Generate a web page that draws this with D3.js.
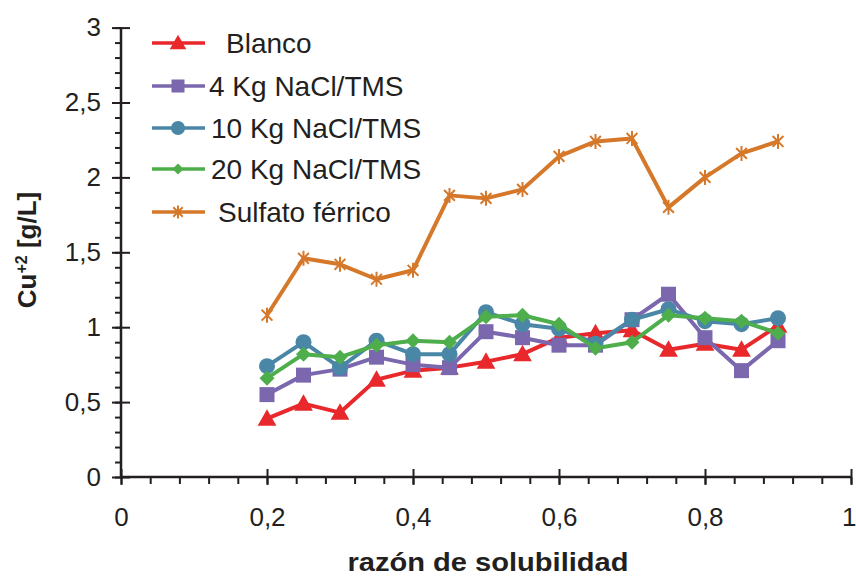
<!DOCTYPE html>
<html>
<head>
<meta charset="utf-8">
<script src="https://cdn.jsdelivr.net/npm/d3@7"></script>
<style>
  html, body { margin: 0; padding: 0; background: #fff; }
  svg { display: block; font-family: "Liberation Sans", Arial, sans-serif; }
</style>
</head>
<body>
<svg id="chart" width="856" height="579"></svg>
<script>
// Solubility ratio (x) shared by every series
const ratios = [0.2, 0.25, 0.3, 0.35, 0.4, 0.45, 0.5, 0.55, 0.6, 0.65, 0.7, 0.75, 0.8, 0.85, 0.9];

// Cu+2 concentration [g/L] per treatment
const blanco   = [0.39, 0.49, 0.43, 0.65, 0.71, 0.73, 0.77, 0.82, 0.93, 0.96, 0.98, 0.85, 0.89, 0.85, 1.01];
const nacl4    = [0.55, 0.68, 0.72, 0.80, 0.75, 0.73, 0.97, 0.93, 0.88, 0.88, 1.05, 1.22, 0.93, 0.71, 0.91];
const nacl10   = [0.74, 0.90, 0.73, 0.91, 0.82, 0.82, 1.10, 1.02, 0.99, 0.89, 1.05, 1.12, 1.04, 1.02, 1.06];
const nacl20   = [0.66, 0.82, 0.80, 0.88, 0.91, 0.90, 1.07, 1.08, 1.02, 0.86, 0.90, 1.08, 1.06, 1.04, 0.96];
const sulfato  = [1.08, 1.46, 1.42, 1.32, 1.38, 1.88, 1.86, 1.92, 2.14, 2.24, 2.26, 1.80, 2.00, 2.16, 2.24];

const seriesNames = ["Blanco", "4 Kg NaCl/TMS", "10 Kg NaCl/TMS", "20 Kg NaCl/TMS", "Sulfato férrico"];
const seriesValues = [blanco, nacl4, nacl10, nacl20, sulfato];
const seriesColors = ["#E8282B", "#7B67AD", "#4A87A6", "#4DAE4B", "#D5782A"];
const seriesMarkers = ["triangle", "square", "circle", "diamond", "star"];

const xTickLabels = ["0", "0,2", "0,4", "0,6", "0,8", "1"];
const yTickLabels = ["0", "0,5", "1", "1,5", "2", "2,5", "3"];

const axisColor = "#231F20";
const svg = d3.select("#chart");

const x = d3.scaleLinear().domain([0, 1]).range([121, 851]);
const y = d3.scaleLinear().domain([0, 3]).range([477, 27.6]);

// Marker path generator
function markerPath(type, s) {
  switch (type) {
    case "triangle": return `M0,${-s * 0.55}L${s * 0.55},${s * 0.42}L${-s * 0.55},${s * 0.42}Z`;
    case "square": return `M${-s / 2},${-s / 2}h${s}v${s}h${-s}Z`;
    case "circle": { const r = s / 2; return `M${r},0A${r},${r} 0 1,1 ${-r},0A${r},${r} 0 1,1 ${r},0Z`; }
    case "diamond": return `M0,${-s / 2}L${s / 2},0L0,${s / 2}L${-s / 2},0Z`;
    case "star": { const h = s / 2, d = s * 0.36; return `M0,${-h}V${h}M${-d},${-d}L${d},${d}M${-d},${d}L${d},${-d}`; }
  }
}

// ---- axes ----
const gAxes = svg.append("g");

// y axis: majors at 0.5 (both sides), minors at 0.1 (outside only)
const yMinor = d3.range(0, 3.0001, 0.1);
gAxes.append("g").attr("transform", `translate(${x(0)},0)`)
  .call(d3.axisLeft(y).tickValues(yMinor).tickSize(6).tickFormat(""))
  .call(g => g.select(".domain").remove())
  .call(g => g.selectAll("line").attr("stroke", axisColor).attr("stroke-width", 2));
gAxes.append("g").attr("transform", `translate(${x(0) + 9},0)`)
  .call(d3.axisLeft(y).tickValues(d3.range(0, 3.0001, 0.5)).tickSize(18).tickSizeOuter(0)
    .tickFormat((d, i) => yTickLabels[i]))
  .call(g => g.select(".domain").remove())
  .call(g => g.selectAll("line").attr("stroke", axisColor).attr("stroke-width", 2))
  .call(g => g.selectAll("text").attr("font-size", 26).attr("fill", axisColor)
    .attr("font-family", "Liberation Sans, Arial, sans-serif").attr("x", -29));

// x axis: majors at 0.2 (both sides), minors at 0.04 (below only)
gAxes.append("g").attr("transform", `translate(0,${y(0)})`)
  .call(d3.axisBottom(x).tickValues(d3.range(0, 1.0001, 0.04)).tickSize(7).tickFormat(""))
  .call(g => g.select(".domain").remove())
  .call(g => g.selectAll("line").attr("stroke", axisColor).attr("stroke-width", 2));
gAxes.append("g").attr("transform", `translate(0,${y(0) - 8})`)
  .call(d3.axisBottom(x).tickValues(d3.range(0, 1.0001, 0.2)).tickSize(16)
    .tickFormat((d, i) => xTickLabels[i]))
  .call(g => g.select(".domain").remove())
  .call(g => g.selectAll("line").attr("stroke", axisColor).attr("stroke-width", 2))
  .call(g => g.selectAll("text").attr("font-size", 26).attr("fill", axisColor)
    .attr("font-family", "Liberation Sans, Arial, sans-serif").attr("y", 39))
  // keep the last label inside the canvas
  .call(g => g.selectAll("text").filter((d, i) => i === xTickLabels.length - 1)
    .attr("text-anchor", "end").attr("x", 5));

// axis lines
gAxes.append("line").attr("x1", x(0)).attr("x2", x(0)).attr("y1", y(3)).attr("y2", y(0))
  .attr("stroke", axisColor).attr("stroke-width", 2.5);
gAxes.append("line").attr("x1", x(0)).attr("x2", x(1)).attr("y1", y(0)).attr("y2", y(0))
  .attr("stroke", axisColor).attr("stroke-width", 2.5);

// axis titles
svg.append("text").attr("x", 488).attr("y", 571).attr("text-anchor", "middle")
  .attr("font-size", 26).attr("font-weight", "bold").attr("fill", axisColor)
  .attr("textLength", 281).attr("lengthAdjust", "spacingAndGlyphs")
  .text("razón de solubilidad");

const yTitle = svg.append("text").attr("transform", "translate(36,250) rotate(-90)")
  .attr("text-anchor", "middle").attr("font-size", 26).attr("font-weight", "bold").attr("fill", axisColor);
yTitle.append("tspan").text("Cu");
yTitle.append("tspan").attr("dy", -9).attr("font-size", 16).text("+2");
yTitle.append("tspan").attr("dy", 9).text(" [g/L]");

// ---- series ----
const line = d3.line().x((d, i) => x(ratios[i])).y(d => y(d));
const markerSize = { triangle: 17, square: 15, circle: 16, diamond: 15, star: 15 };

seriesValues.forEach((vals, k) => {
  const g = svg.append("g");
  const c = seriesColors[k];
  g.append("path").datum(vals).attr("d", line).attr("fill", "none")
    .attr("stroke", c).attr("stroke-width", 4).attr("stroke-linejoin", "round");
  const type = seriesMarkers[k];
  g.selectAll("path.mk").data(vals).join("path").attr("class", "mk")
    .attr("transform", (d, i) => `translate(${x(ratios[i])},${y(d)})`)
    .attr("d", markerPath(type, markerSize[type]))
    .attr("fill", type === "star" ? "none" : c)
    .attr("stroke", c).attr("stroke-width", type === "star" ? 2 : 0);
});

// ---- legend ----
const legendY = [43, 86, 128, 169, 212];
const legendTextX = [226, 209, 211, 211, 218];
const legendMarkerSize = { triangle: 15, square: 13, circle: 14, diamond: 11, star: 13 };
seriesNames.forEach((name, k) => {
  const g = svg.append("g").attr("transform", `translate(0,${legendY[k]})`);
  const c = seriesColors[k];
  const type = seriesMarkers[k];
  g.append("line").attr("x1", 152).attr("x2", 205).attr("y1", 0).attr("y2", 0)
    .attr("stroke", c).attr("stroke-width", 3.5);
  g.append("path").attr("transform", "translate(178,0)")
    .attr("d", markerPath(type, legendMarkerSize[type]))
    .attr("fill", type === "star" ? "none" : c)
    .attr("stroke", c).attr("stroke-width", type === "star" ? 2 : 0);
  g.append("text").attr("x", legendTextX[k]).attr("y", 10)
    .attr("font-size", 28).attr("fill", axisColor).text(name);
});
</script>
</body>
</html>
